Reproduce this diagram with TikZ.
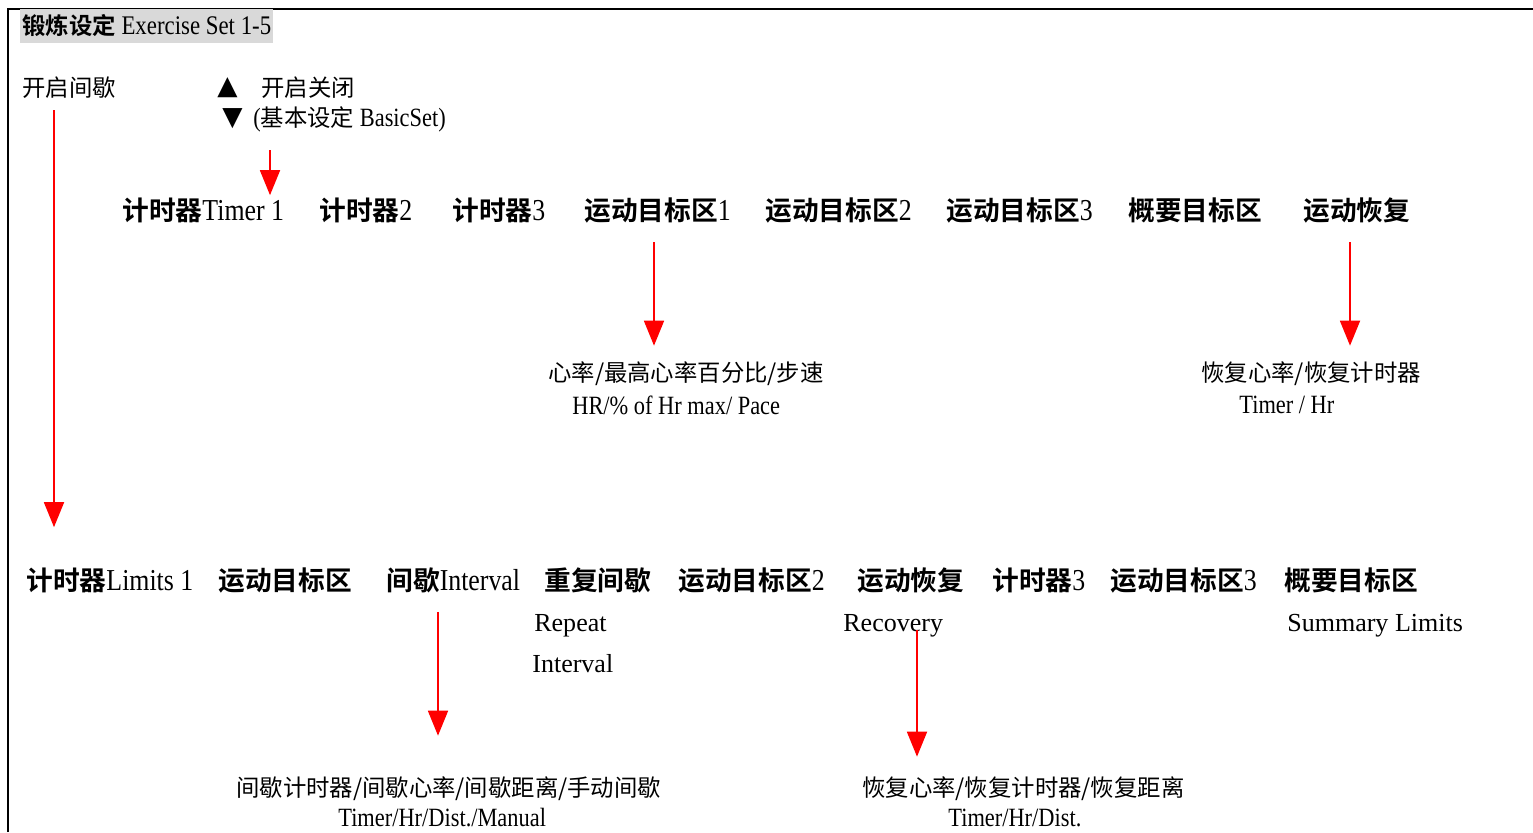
\documentclass[tikz,border=0pt]{standalone}
\usepackage{fontspec}
\setmainfont[FakeStretch=0.85]{Liberation Serif}
\newfontfamily\wide{Liberation Serif}
\newfontfamily\cjk[BoldFont={Noto Sans CJK SC Bold}]{Noto Sans CJK SC}
\newfontfamily\symfont{DejaVu Sans}
\usepackage{tikz}
\usetikzlibrary{arrows.meta, calc}
\definecolor{arrowred}{RGB}{255, 0, 0}
\definecolor{titlegray}{RGB}{217, 217, 217}
\newcommand{\zh}[1]{{\cjk\fontsize{13.3}{16}\selectfont #1}}
\newcommand{\zhb}[1]{{\cjk\bfseries\fontsize{15.2}{18}\selectfont #1}}

\begin{document}
\begin{tikzpicture}[x=0.02cm, y=-0.02cm,
  big/.style={anchor=west, inner sep=0pt, font=\fontsize{17.3}{20}\selectfont},
  small/.style={anchor=west, inner sep=0pt, font=\fontsize{15}{18}\selectfont},
  plain/.style={anchor=west, inner sep=0pt, font=\wide\fontsize{14.8}{18}\selectfont},
  tri/.style={anchor=west, inner sep=0pt, font=\symfont\fontsize{15}{18}\selectfont},
  arr/.style={draw=arrowred, line width=1pt, -{Triangle[width=0.4cm, length=0.5cm]}},
]
  \useasboundingbox (0,0) rectangle (1533,832);
  \draw[line width=1.7pt] (8,832) -- (8,9) -- (1533,9);
  \node[fill=titlegray, anchor=west, inner xsep=0.04cm, minimum height=0.56cm,
        font=\fontsize{15.3}{18}\selectfont] (title) at (20,26)
    {{\cjk\bfseries\fontsize{13.3}{16}\selectfont 锻炼设定} Exercise Set 1-5};

  % on/off keys
  \node[small] (kqjx) at (22,88) {\zh{开启间歇}};
  \node[tri] (up) at (217,88) {▲};
  \node[small] (onoff) at (261,88) {\zh{开启关闭}};
  \node[tri] (down) at (222,119) {▼};
  \node[small] (basic) at (253,119) {(\zh{基本设定} BasicSet)};

  % basic set row
  \node[big] (timer1) at (122,210) {\zhb{计时器}Timer 1};
  \node[big] (timer2) at (319,210) {\zhb{计时器}2};
  \node[big] (timer3) at (452,210) {\zhb{计时器}3};
  \node[big] (zone1) at (584,210) {\zhb{运动目标区}1};
  \node[big] (zone2) at (765,210) {\zhb{运动目标区}2};
  \node[big] (zone3) at (946,210) {\zhb{运动目标区}3};
  \node[big] (summ) at (1128,210) {\zhb{概要目标区}};
  \node[big] (rec) at (1303,210) {\zhb{运动恢复}};

  \node[small] (hr) at (548,374) {\zh{心率/最高心率百分比/步速}};
  \node[small] (hreng) at (572,405) {HR/\% of Hr max/ Pace};
  \node[small] (hrt) at (1201,374) {\zh{恢复心率/恢复计时器}};
  \node[small] (hrteng) at (1239,405) {Timer / Hr};

  % limits row
  \node[big] (lim1) at (26,580) {\zhb{计时器}Limits 1};
  \node[big] (bzone) at (218,580) {\zhb{运动目标区}};
  \node[big] (intv) at (386,580) {\zhb{间歇}Interval};
  \node[big] (rep) at (544,580) {\zhb{重复间歇}};
  \node[big] (bzone2) at (678,580) {\zhb{运动目标区}2};
  \node[big] (brec) at (857,580) {\zhb{运动恢复}};
  \node[big] (btimer3) at (992,580) {\zhb{计时器}3};
  \node[big] (bzone3) at (1110,580) {\zhb{运动目标区}3};
  \node[big] (bsumm) at (1284,580) {\zhb{概要目标区}};

  \node[plain] (repeng) at (534,626) {Repeat};
  \node[plain] (intveng) at (532,664) {Interval};
  \node[plain] (receng) at (843,626) {Recovery};
  \node[plain] (summeng) at (1287,626) {Summary Limits};

  \node[small] (ivl) at (236,789) {\zh{间歇计时器/间歇心率/间歇距离/手动间歇}};
  \node[small] (ivleng) at (338,818) {Timer/Hr/Dist./Manual};
  \node[small] (rl) at (862,789) {\zh{恢复心率/恢复计时器/恢复距离}};
  \node[small] (rleng) at (948,818) {Timer/Hr/Dist.};

  % arrows
  \draw[arr] ($(kqjx.south west)+(32,11)$) -- ($(lim1.north west)+(28,-40)$);
  \draw[arr] ($(basic.south west)+(17,18)$) -- ($(timer1.north west)+(148,-2)$);
  \draw[arr] ($(zone1.south west)+(70,19)$) -- ($(hr.north west)+(106,-16)$);
  \draw[arr] ($(rec.south west)+(47,19)$) -- ($(hrt.north west)+(149,-16)$);
  \draw[arr] ($(intv.south west)+(52,19)$) -- ($(ivl.north west)+(202,-41)$);
  \draw[arr] ($(receng.south west)+(74,-8)$) -- ($(rl.north west)+(55,-20)$);
\end{tikzpicture}
\end{document}
